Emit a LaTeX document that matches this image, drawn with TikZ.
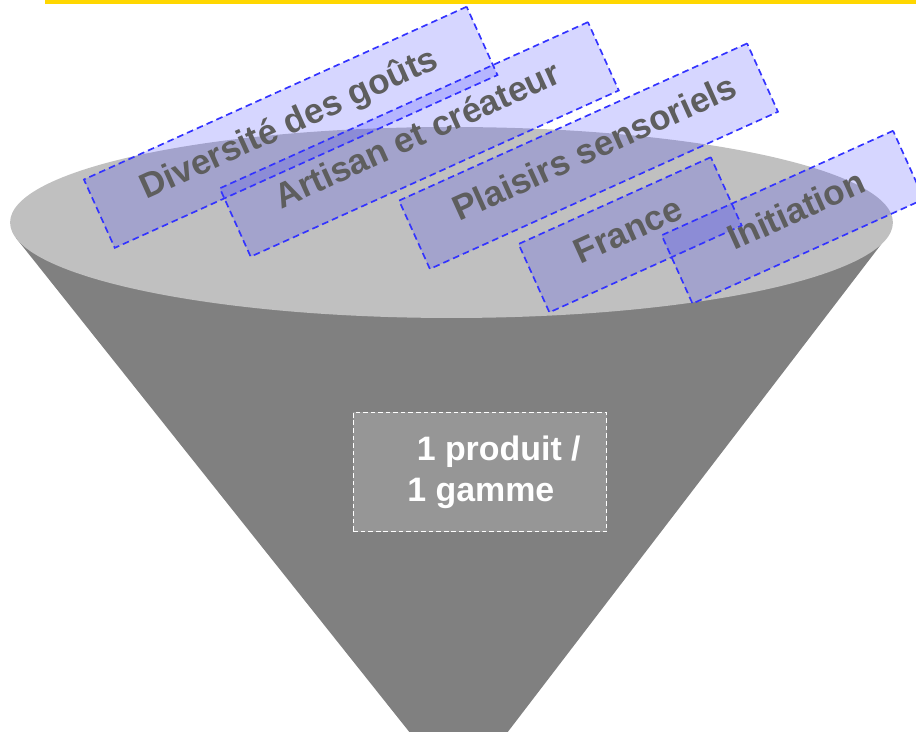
\documentclass[tikz,border=0pt]{standalone}
\usepackage{fontspec}
\setmainfont{Liberation Sans}
\usepackage{tikz}
\usetikzlibrary{calc}

\definecolor{topicblue}{RGB}{51,51,255}
\definecolor{topictext}{RGB}{94,94,94}
\definecolor{conegray}{RGB}{128,128,128}
\definecolor{rimgray}{RGB}{192,192,192}
\definecolor{boxgray}{RGB}{150,150,150}
\definecolor{bargold}{RGB}{255,215,0}

\begin{document}
\begin{tikzpicture}[x=0.02cm, y=-0.02cm, short dash/.style={dash pattern=on 3.8pt off 2.3pt}]
	% Define styles
	\tikzstyle{topic}=[draw=topicblue, short dash, line width=0.95pt, fill=topicblue, fill opacity=0.2, text opacity=1, text=topictext, font=\fontsize{19.9}{24}\selectfont\bfseries, text height=0.42cm, text depth=0.147cm, minimum height=1.5cm, inner sep=0pt, rotate=24.3]
	\tikzstyle{result}=[draw=white, dash pattern=on 2.6pt off 1.7pt, line width=0.8pt, fill=boxgray, minimum width=5.07cm, minimum height=2.39cm]
	\tikzstyle{result text}=[text=white, font=\fontsize{19.3}{23.2}\selectfont\bfseries, align=left, inner sep=0pt]
	
	\useasboundingbox (0,0) rectangle (916,732);
	\clip (0,0) rectangle (916,732);
	
	% Top bar
	\fill[bargold] (45,0) rectangle (916,4.5);
	
	% Funnel
	\coordinate (rimL) at (16,238);
	\coordinate (rimR) at (886,238);
	\coordinate (tip) at (459.5,795);
	\fill[conegray] (rimL) -- (tip) -- (rimR) -- cycle;
	\fill[rimgray] (451.5,222.5) ellipse [x radius=8.83cm, y radius=1.91cm];
	
	% Result inside the funnel
	\node[result] (produit) at (480,472) {};
	\node[result text, anchor=base west] (produittxt) at (407,501.7) {\hspace*{0.278em}1 produit /\\1 gamme};
	
	% Topics on the rim
	\node[topic, minimum width=8.4cm] (diversite) at (290.7,127.3) {Diversité des goûts};
	\node[topic, minimum width=8.08cm] (artisan) at (419.3,139.4) {Artisan et créateur};
	\node[topic, minimum width=7.64cm] (plaisirs) at (588.5,156.2) {\hspace*{0.36cm}Plaisirs sensoriels};
	\node[topic, minimum width=4.22cm] (france) at (630.1,234.8) {France};
	\node[topic, minimum width=5.08cm] (initiation) at (792.8,217.2) {\hspace*{0.24cm}Initiation};
	
\end{tikzpicture}
\end{document}
